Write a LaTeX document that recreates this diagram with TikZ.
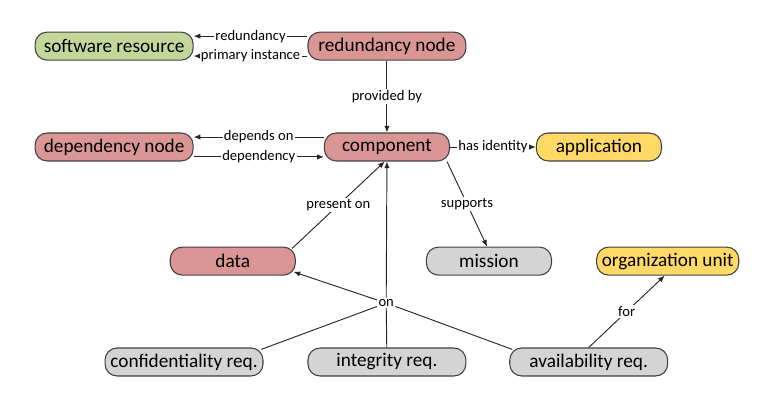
\documentclass[tikz,border=0pt]{standalone}
\usepackage{fontspec}
\setmainfont{Carlito}
\usetikzlibrary{arrows.meta, positioning}
\definecolor{resgreen}{HTML}{C4D79B}
\definecolor{assetred}{HTML}{DA9694}
\definecolor{orgyellow}{HTML}{FFD966}
\definecolor{reqgray}{HTML}{D4D4D4}
\definecolor{rimgray}{HTML}{404040}

\begin{document}
\begin{tikzpicture}[
    font=\fontsize{14.5}{17}\selectfont,
    concept/.style={rectangle, draw=rimgray, line width=0.8pt, rounded corners=9pt, minimum height=0.74cm, inner sep=2pt, align=center},
    wide/.style={concept, minimum width=4.18cm},
    narrow/.style={concept, minimum width=3.31cm},
    rel/.style={-{Latex[length=5pt,width=4pt]}, line width=0.7pt, draw=black!85},
    link/.style={line width=0.7pt, draw=black!85},
    lbl/.style={fill=white, inner sep=1pt, font=\fontsize{11}{13}\selectfont}
]
\useasboundingbox (0,0) rectangle (20.43,-11.03);

% 1. Top row
\node[wide, fill=resgreen] (swres) at (3.02,-1.22) {software resource};
\node[wide, fill=assetred] (rednode) at (10.24,-1.22) {redundancy node};

\draw[rel] ([yshift=7.5pt]rednode.west) -- node[lbl]{redundancy} ([yshift=7.5pt]swres.east);
\draw[rel] ([yshift=-7.5pt]rednode.west) -- node[lbl]{primary instance} ([yshift=-7.5pt]swres.east);

% 2. Component row
\node[wide, fill=assetred] (depnode) at (3.02,-3.89) {dependency node};
\node[narrow, fill=assetred] (comp) at (10.24,-3.89) {component};
\node[narrow, fill=orgyellow] (app) at (15.85,-3.89) {application};

\draw[rel] (rednode) -- node[lbl]{provided by} (comp);
\draw[rel] ([yshift=7.5pt]comp.west) -- node[lbl]{depends on} ([yshift=7.5pt]depnode.east);
\draw[rel] ([yshift=-7.5pt]depnode.east) -- node[lbl]{dependency} ([yshift=-7.5pt]comp.west);
\draw[rel] (comp) -- node[lbl]{has identity} (app);

% 3. Data and mission row
\node[narrow, fill=assetred] (data) at (6.16,-6.91) {data};
\node[narrow, fill=reqgray] (mission) at (12.94,-6.91) {mission};
\node[concept, fill=orgyellow, inner sep=1pt, minimum width=3.76cm] (orgunit) at (17.67,-6.91) {organization unit};

\draw[rel] ([xshift=-1mm,yshift=-0.5mm]data.north east) -- node[lbl]{present on} ([xshift=-0.6mm]comp.south);
\draw[rel] ([xshift=-0.8mm]comp.south east) -- node[lbl]{supports} ([xshift=-0.5mm]mission.north);

% 4. Requirements row
\node[wide, fill=reqgray] (confreq) at (4.87,-9.58) {confidentiality req.};
\node[wide, fill=reqgray] (intreq) at (10.24,-9.58) {integrity req.};
\node[wide, fill=reqgray] (availreq) at (15.58,-9.58) {availability req.};

\node[lbl] (on) at (10.22,-8.02) {on};
\draw[link] ([xshift=-0.6mm,yshift=-0.5mm]confreq.north east) -- (on);
\draw[link] (intreq) -- (on);
\draw[link] ([xshift=0.8mm,yshift=-0.5mm]availreq.north west) -- (on);
\draw[rel] (on) -- (comp.south);
\draw[rel] (on) -- ([xshift=-0.6mm,yshift=1mm]data.south east);
\draw[rel] (availreq.north) -- node[lbl]{for} ([xshift=-0.8mm]orgunit.south);

\end{tikzpicture}
\end{document}
